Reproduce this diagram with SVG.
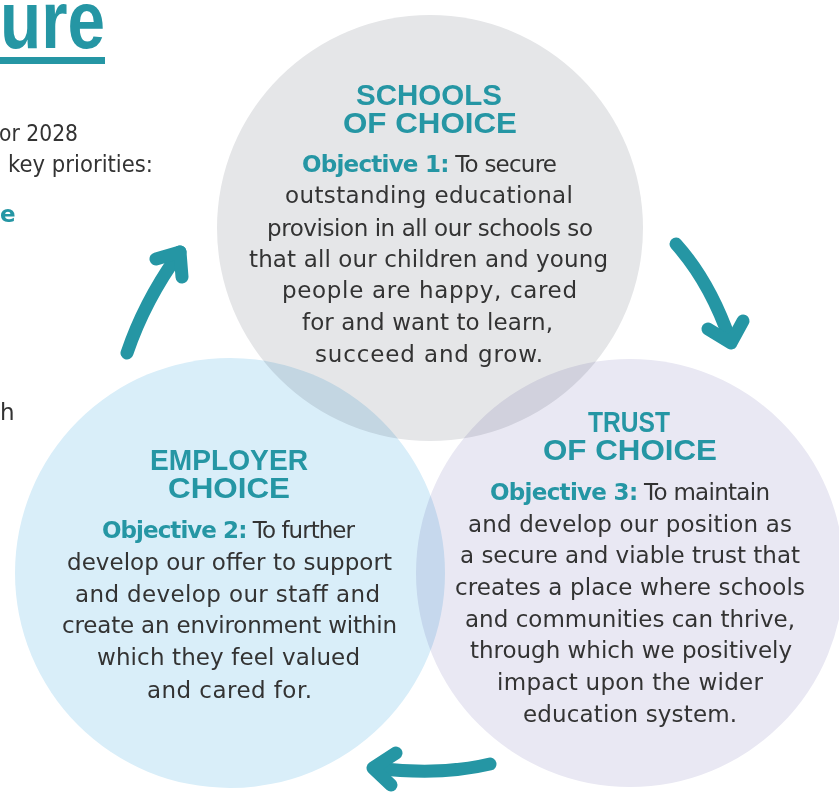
<svg xmlns="http://www.w3.org/2000/svg" width="839" height="794" viewBox="0 0 839 794">
<style>
.bg{fill:#ffffff}
.circ{mix-blend-mode:multiply}
.c1{fill:#e5e6e8}
.c2{fill:#d9eef9}
.c3{fill:#e9e8f3}
.head{font-family:"Liberation Sans",Arial,sans-serif;font-weight:bold;font-size:30px;fill:#2596a4}
.body{font-family:"DejaVu Sans","Liberation Sans",sans-serif;font-size:23px;fill:#333333}
.obj{font-weight:bold;fill:#2596a4}
.arrow{fill:none;stroke:#2596a4;stroke-width:13;stroke-linecap:round;stroke-linejoin:round}
.title{font-family:"Liberation Sans",Arial,sans-serif;font-weight:bold;font-size:82px;fill:#2596a4}
</style>
<rect class="bg" x="0" y="0" width="839" height="794"/>
<g id="page-text">
<text class="title" x="0" y="48" textLength="105" lengthAdjust="spacingAndGlyphs">ure</text>
<rect x="0" y="57" width="105" height="7" fill="#2596a4"/>
<text class="body" x="-1" y="141" textLength="79" lengthAdjust="spacingAndGlyphs">or 2028</text>
<text class="body" x="8" y="172" textLength="145" lengthAdjust="spacingAndGlyphs">key priorities:</text>
<text class="body obj" x="0" y="222">e</text>
<text class="body" x="0" y="420">h</text>
</g>
<g style="isolation:isolate">
<g id="node-schools">
<circle class="circ c1" cx="430" cy="228" r="213"/>
<text class="head" x="356" y="105" textLength="146" lengthAdjust="spacingAndGlyphs">SCHOOLS</text>
<text class="head" x="343" y="133" textLength="174" lengthAdjust="spacingAndGlyphs">OF CHOICE</text>
<text class="body" x="302" y="172" textLength="255"><tspan class="obj">Objective 1:</tspan> To secure</text>
<text class="body" x="285" y="203" textLength="288">outstanding educational</text>
<text class="body" x="267" y="236" textLength="326">provision in all our schools so</text>
<text class="body" x="249" y="267" textLength="359">that all our children and young</text>
<text class="body" x="282" y="298" textLength="295">people are happy, cared</text>
<text class="body" x="302" y="330" textLength="251">for and want to learn,</text>
<text class="body" x="315" y="362" textLength="228">succeed and grow.</text>
</g>
<g id="node-employer">
<circle class="circ c2" cx="230" cy="573" r="215"/>
<text class="head" x="150" y="470" textLength="158" lengthAdjust="spacingAndGlyphs">EMPLOYER</text>
<text class="head" x="168" y="498" textLength="122" lengthAdjust="spacingAndGlyphs">CHOICE</text>
<text class="body" x="102" y="538" textLength="253"><tspan class="obj">Objective 2:</tspan> To further</text>
<text class="body" x="67" y="570" textLength="325">develop our offer to support</text>
<text class="body" x="75" y="602" textLength="305">and develop our staff and</text>
<text class="body" x="62" y="633" textLength="335">create an environment within</text>
<text class="body" x="97" y="665" textLength="263">which they feel valued</text>
<text class="body" x="147" y="698" textLength="165">and cared for.</text>
</g>
<g id="node-trust">
<circle class="circ c3" cx="630" cy="573" r="214"/>
<text class="head" x="588" y="432" textLength="82" lengthAdjust="spacingAndGlyphs">TRUST</text>
<text class="head" x="543" y="460" textLength="174" lengthAdjust="spacingAndGlyphs">OF CHOICE</text>
<text class="body" x="490" y="500" textLength="280"><tspan class="obj">Objective 3:</tspan> To maintain</text>
<text class="body" x="468" y="532" textLength="324">and develop our position as</text>
<text class="body" x="460" y="563" textLength="340">a secure and viable trust that</text>
<text class="body" x="455" y="595" textLength="350">creates a place where schools</text>
<text class="body" x="465" y="627" textLength="330">and communities can thrive,</text>
<text class="body" x="470" y="658" textLength="322">through which we positively</text>
<text class="body" x="497" y="690" textLength="266">impact upon the wider</text>
<text class="body" x="523" y="722" textLength="214">education system.</text>
</g>
</g>
<g id="connectors">
<path class="arrow" d="M127,353 Q145,300 180,252"/>
<polyline class="arrow" points="156,259 180,252 182,277"/>
<path class="arrow" d="M676,244 Q710,282 730,340"/>
<polyline class="arrow" points="708,329 731,343 743,321"/>
<path class="arrow" d="M490,764 Q440,776 375,768"/>
<polyline class="arrow" points="396,753 373,768 391,785"/>
</g>
</svg>
